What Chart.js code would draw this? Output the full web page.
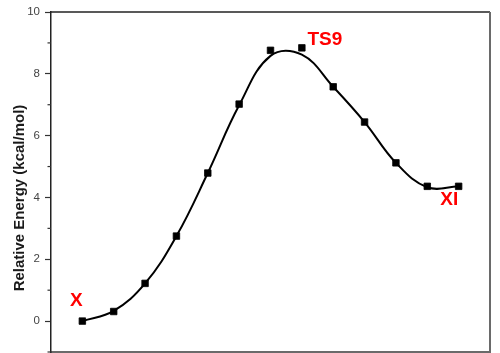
<!DOCTYPE html>
<html>
<head>
<meta charset="utf-8">
<script src="https://cdn.jsdelivr.net/npm/chart.js@4.4.1/dist/chart.umd.min.js"></script>
<style>
  html, body { margin: 0; padding: 0; background: #ffffff; }
  #wrap { width: 500px; height: 353px; position: relative; }
</style>
</head>
<body>
<div id="wrap"><canvas id="c"></canvas></div>
<script>
// Reaction coordinate positions (structure index)
const xValues = [1, 2, 3, 4, 5, 6, 7, 8, 9, 10, 11, 12, 13];
// Relative energies (kcal/mol) of the computed points
const energies = [0.00, 0.31, 1.22, 2.75, 4.79, 7.02, 8.76, 8.84, 7.58, 6.44, 5.12, 4.36, 4.36];
// Smoothed fit curve at the same positions
const fitValues = [0.00, 0.33, 1.22, 2.75, 4.79, 6.98, 8.58, 8.62, 7.58, 6.44, 5.12, 4.33, 4.36];
// Y tick values with labels
const yTickLabels = [0, 2, 4, 6, 8, 10];
// Structure labels and the point each is attached to
const annoText = ['X', 'TS9', 'XI'];
const annoIndex = [0, 7, 12];
const yTitle = 'Relative Energy (kcal/mol)';

const annoOffsets = [[-6, -14.6], [23, -3], [-9.3, 18.6]];

const pointsData = xValues.map((x, i) => ({ x: x, y: energies[i] }));
const fitData = xValues.map((x, i) => ({ x: x, y: fitValues[i] }));

const decorPlugin = {
  id: 'decor',
  afterDraw(chart) {
    const ctx = chart.ctx;
    const ca = chart.chartArea;
    const ys = chart.scales.y;
    const xs = chart.scales.x;
    ctx.save();
    // frame top and right
    ctx.strokeStyle = '#222';
    ctx.lineWidth = 1.5;
    ctx.beginPath();
    ctx.moveTo(ca.left, ca.top);
    ctx.lineTo(ca.right, ca.top);
    ctx.stroke();
    ctx.strokeStyle = '#6a6a6a';
    ctx.lineWidth = 2;
    ctx.beginPath();
    ctx.moveTo(ca.right, ca.top);
    ctx.lineTo(ca.right, ca.bottom);
    ctx.stroke();
    // minor ticks at odd values
    ctx.strokeStyle = '#333';
    ctx.lineWidth = 1.2;
    for (let v = Math.ceil(ys.min); v <= ys.max; v++) {
      if (Math.abs(v % 2) === 1) {
        const py = ys.getPixelForValue(v);
        ctx.beginPath();
        ctx.moveTo(ca.left - 3.5, py);
        ctx.lineTo(ca.left, py);
        ctx.stroke();
      }
    }
    // y title
    ctx.fillStyle = '#1a1a1a';
    ctx.font = 'bold 15px "Liberation Sans", Arial, sans-serif';
    ctx.textAlign = 'center';
    ctx.textBaseline = 'middle';
    ctx.translate(20, (ca.top + ca.bottom) / 2 + 16);
    ctx.rotate(-Math.PI / 2);
    ctx.fillText(yTitle, 0, 0);
    ctx.restore();
    // structure labels
    ctx.save();
    ctx.fillStyle = '#ff0000';
    ctx.font = 'bold 19px "Liberation Sans", Arial, sans-serif';
    ctx.textAlign = 'center';
    ctx.textBaseline = 'alphabetic';
    annoText.forEach((t, k) => {
      const i = annoIndex[k];
      const px = xs.getPixelForValue(xValues[i]) + annoOffsets[k][0];
      const py = ys.getPixelForValue(energies[i]) + annoOffsets[k][1];
      ctx.fillText(t, px, py);
    });
    ctx.restore();
  }
};

new Chart(document.getElementById('c'), {
  type: 'scatter',
  data: {
    datasets: [
      {
        label: 'Energy',
        data: pointsData,
        showLine: false,
        pointStyle: 'rect',
        pointRadius: 4.6,
        pointBorderWidth: 0.8,
        pointBackgroundColor: '#000',
        pointBorderColor: '#000',
        order: 0
      },
      {
        label: 'Fit',
        data: fitData,
        showLine: true,
        tension: 0.4,
        borderColor: '#000',
        borderWidth: 2,
        pointRadius: 0,
        pointHoverRadius: 0,
        fill: false,
        order: 1
      }
    ]
  },
  options: {
    responsive: true,
    maintainAspectRatio: false,
    animation: false,
    events: [],
    layout: { autoPadding: false, padding: { left: 0, right: 10, top: 12, bottom: 1 } },
    plugins: {
      legend: { display: false },
      tooltip: { enabled: false },
      title: { display: false }
    },
    scales: {
      x: {
        type: 'linear',
        min: 0,
        max: 14,
        ticks: { display: false },
        grid: { display: false, drawTicks: false },
        border: { display: true, color: '#6a6a6a', width: 2 },
        afterFit(scale) { scale.height = 0; scale.paddingLeft = 0; scale.paddingRight = 0; }
      },
      y: {
        type: 'linear',
        min: -1,
        max: 10,
        afterBuildTicks(scale) {
          const t = [];
          for (let v = -1; v <= 10; v++) t.push({ value: v });
          scale.ticks = t;
        },
        ticks: {
          padding: 5,
          color: '#444',
          font: { family: '"Liberation Sans", Arial, sans-serif', size: 11.5 },
          callback(value) { return yTickLabels.includes(value) ? String(value) : ''; }
        },
        grid: {
          drawOnChartArea: false,
          drawTicks: true,
          tickLength: 6,
          tickWidth: 1.2,
          tickColor(ctx) { return yTickLabels.includes(ctx.tick && ctx.tick.value) ? '#333' : 'rgba(0,0,0,0)'; }
        },
        border: { display: true, color: '#222', width: 1.5 },
        afterFit(scale) { scale.width = 51; scale.paddingTop = 0; scale.paddingBottom = 0; }
      }
    }
  },
  plugins: [decorPlugin]
});
</script>
</body>
</html>
